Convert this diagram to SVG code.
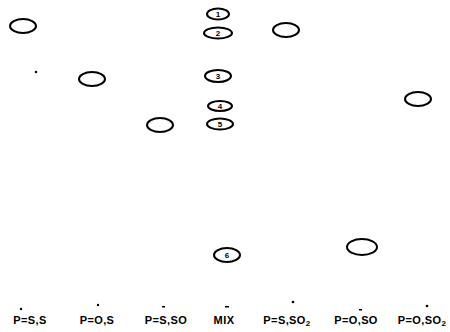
<svg xmlns="http://www.w3.org/2000/svg" width="450" height="332" viewBox="0 0 450 332">
<style>
.spot{fill:none;stroke:#000;stroke-width:2}
.num{font-family:"Liberation Sans",Arial,sans-serif;font-size:8px;font-weight:bold;fill:#000;text-anchor:middle}
.lab{font-family:"Liberation Sans",Arial,sans-serif;font-size:11px;font-weight:bold;fill:#000;text-anchor:middle;letter-spacing:0.4px}
.mark{fill:#000}
</style>
<rect width="450" height="332" fill="#fff"/>
<g id="spots">
<g id="s-ps-s"><ellipse class="spot" cx="23" cy="26" rx="13" ry="7"/></g>
<g id="s-po-s"><ellipse class="spot" cx="92" cy="79" rx="13" ry="7"/></g>
<g id="s-ps-so"><ellipse class="spot" cx="160" cy="125" rx="13" ry="7"/></g>
<g id="s-ps-so2"><ellipse class="spot" cx="286" cy="30" rx="13" ry="7"/></g>
<g id="s-po-so"><ellipse class="spot" cx="362" cy="247" rx="15" ry="8"/></g>
<g id="s-po-so2"><ellipse class="spot" cx="418" cy="99" rx="13" ry="7"/></g>
<g id="mix1"><ellipse class="spot" cx="218" cy="14" rx="11" ry="5.5"/><text class="num" x="218" y="17">1</text></g>
<g id="mix2"><ellipse class="spot" cx="218" cy="33" rx="14" ry="5.5"/><text class="num" x="218" y="36">2</text></g>
<g id="mix3"><ellipse class="spot" cx="218" cy="76" rx="13" ry="6"/><text class="num" x="218" y="79">3</text></g>
<g id="mix4"><ellipse class="spot" cx="220" cy="106" rx="12" ry="5"/><text class="num" x="220" y="109">4</text></g>
<g id="mix5"><ellipse class="spot" cx="220" cy="124" rx="13" ry="5.5"/><text class="num" x="220" y="127">5</text></g>
<g id="mix6"><ellipse class="spot" cx="227" cy="255" rx="13" ry="7"/><text class="num" x="227" y="258">6</text></g>
<circle class="mark" cx="36" cy="72" r="1.2"/>
</g>
<g id="origins">
<circle class="mark" cx="21" cy="309" r="1.2"/>
<circle class="mark" cx="98" cy="305" r="1.2"/>
<rect class="mark" x="162" y="306" width="3" height="1.5"/>
<rect class="mark" x="225" y="306" width="4" height="1.5"/>
<circle class="mark" cx="293" cy="302" r="1.3"/>
<rect class="mark" x="359" y="309" width="3" height="1.5"/>
<circle class="mark" cx="427" cy="306" r="1.3"/>
</g>
<g id="labels">
<text class="lab" x="30" y="324">P=S,S</text>
<text class="lab" x="97" y="324">P=O,S</text>
<text class="lab" x="166" y="324">P=S,SO</text>
<text class="lab" x="224" y="324">MIX</text>
<text class="lab" x="287" y="324">P=S,SO<tspan font-size="8" dy="2">2</tspan></text>
<text class="lab" x="356" y="324">P=O,SO</text>
<text class="lab" x="422" y="324">P=O,SO<tspan font-size="8" dy="2">2</tspan></text>
</g>
</svg>
